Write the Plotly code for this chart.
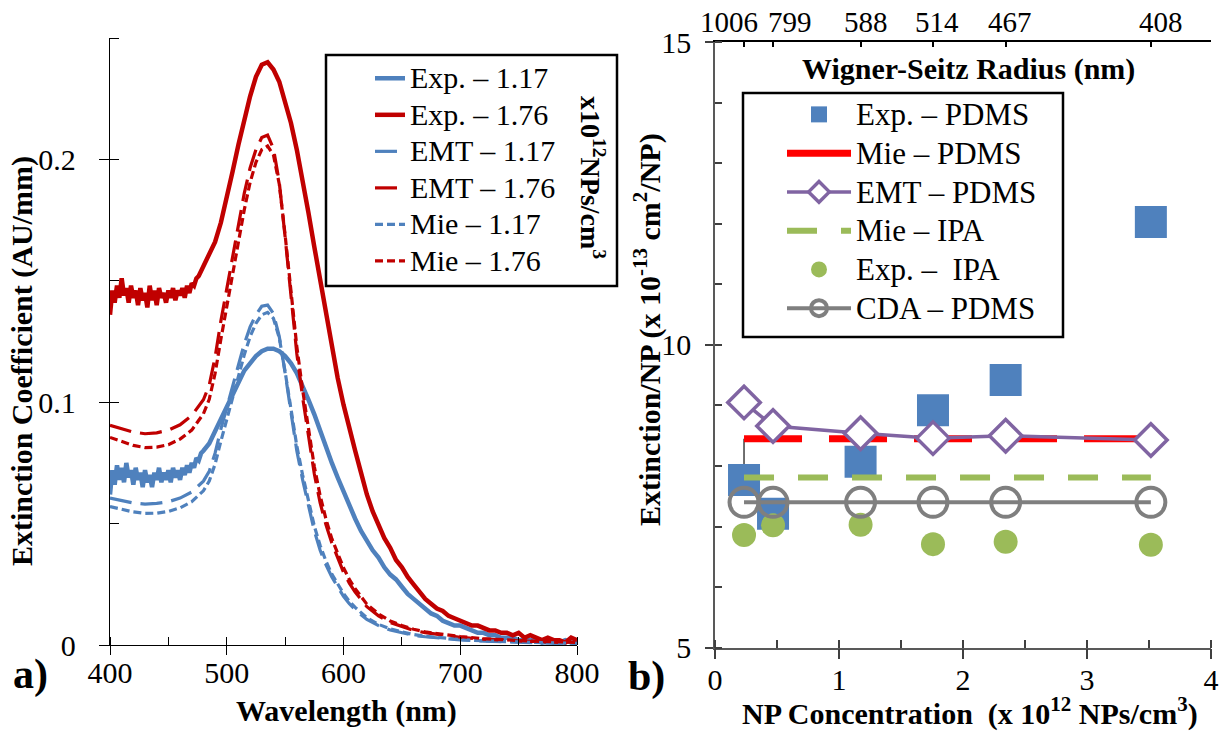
import plotly.graph_objects as go

W, H = 1225, 732
SERIF = "Liberation Serif"
BLUE = "#4F81BD"
DARKRED = "#C00000"
RED = "#FF0000"
PURPLE = "#8064A2"
GREEN = "#9BBB59"
GREY = "#7F7F7F"


def fx(p):
    return p / W


def fy(p):
    return 1 - p / H


def big(text, size):
    return f'<span style="font-size:{size}px">{text}</span>'


# ---------------- a) extinction spectra ----------------
exp_nm = [400, 402, 404, 406, 408, 410, 412, 414, 416, 418, 420, 422, 424, 426, 428, 430,
          432, 434, 436, 438, 440, 442, 444, 446, 448, 450, 452, 454, 456, 458, 460, 462,
          464, 466, 468, 470, 472, 474, 476, 478, 480,
          485, 490, 495, 500, 505, 510, 515, 520, 525, 530, 535, 540, 545, 550, 555, 560,
          565, 570, 575, 580, 585, 590, 595, 600, 605, 610, 615, 620, 625, 630, 635, 640,
          645, 650, 655, 660, 665, 670, 675, 680, 685, 690, 695, 700, 705, 710, 715, 720,
          725, 730, 735, 740, 745, 750, 755, 760, 765, 770, 775, 780, 785, 790, 795, 800]

exp_117 = [0.062, 0.072, 0.066, 0.074, 0.068, 0.073, 0.067, 0.075, 0.069, 0.072, 0.066, 0.073,
           0.068, 0.071, 0.065, 0.072, 0.067, 0.070, 0.065, 0.071, 0.068, 0.073, 0.067, 0.071,
           0.068, 0.072, 0.067, 0.073, 0.069, 0.072, 0.068, 0.073, 0.070, 0.074, 0.071, 0.075,
           0.073, 0.077, 0.076, 0.079, 0.080,
           0.083, 0.088, 0.093, 0.099, 0.104, 0.109, 0.113, 0.116, 0.119, 0.121, 0.122, 0.122,
           0.121, 0.119, 0.116, 0.112, 0.107, 0.101, 0.095, 0.088, 0.081, 0.075, 0.069, 0.063,
           0.057, 0.052, 0.047, 0.043, 0.039, 0.036, 0.032, 0.029, 0.027, 0.024, 0.021, 0.019,
           0.017, 0.015, 0.013, 0.012, 0.010, 0.009, 0.008, 0.008, 0.007, 0.006, 0.005, 0.005,
           0.004, 0.004, 0.003, 0.003, 0.003, 0.002, 0.002, 0.002, 0.002, 0.001, 0.002, 0.001,
           0.001, 0.002, 0.001, 0.001]

exp_176 = [0.136, 0.146, 0.141, 0.148, 0.143, 0.151, 0.144, 0.147, 0.141, 0.148, 0.143, 0.146,
           0.140, 0.147, 0.142, 0.145, 0.139, 0.148, 0.142, 0.146, 0.140, 0.147, 0.143, 0.145,
           0.141, 0.146, 0.143, 0.147, 0.142, 0.146, 0.144, 0.147, 0.143, 0.148, 0.145, 0.149,
           0.148, 0.151, 0.152, 0.154, 0.156,
           0.160, 0.166, 0.174, 0.184, 0.195, 0.206, 0.216, 0.226, 0.234, 0.239, 0.240, 0.237,
           0.232, 0.224, 0.215, 0.204, 0.192, 0.178, 0.164, 0.150, 0.136, 0.122, 0.110, 0.099,
           0.089, 0.080, 0.071, 0.062, 0.055, 0.049, 0.044, 0.040, 0.035, 0.032, 0.028, 0.025,
           0.022, 0.019, 0.017, 0.015, 0.014, 0.012, 0.011, 0.010, 0.009, 0.008, 0.008, 0.007,
           0.006, 0.006, 0.005, 0.005, 0.004, 0.005, 0.003, 0.004, 0.003, 0.002, 0.003, 0.002,
           0.002, 0.001, 0.003, 0.002]

model_nm = [400, 410, 420, 430, 440, 450, 460, 470, 480, 485, 490, 495, 500, 505, 510, 515,
            520, 525, 530, 535, 540, 545, 550, 555, 560, 565, 570, 575, 580, 585, 590, 595,
            600, 605, 610, 620, 630, 640, 650, 660, 670, 680, 690, 700, 720, 740, 760, 780, 800]

emt_117 = [0.0605, 0.0595, 0.0585, 0.0580, 0.0583, 0.0590, 0.0605, 0.0630, 0.0675, 0.0715,
           0.0790, 0.0890, 0.0980, 0.1060, 0.1160, 0.1240, 0.1310, 0.1360, 0.1395, 0.1400,
           0.1365, 0.1270, 0.1120, 0.0950, 0.0800, 0.0680, 0.0570, 0.0470, 0.0390, 0.0330,
           0.0280, 0.0240, 0.0200, 0.0170, 0.0145, 0.0105, 0.0080, 0.0062, 0.0050, 0.0040,
           0.0034, 0.0029, 0.0025, 0.0021, 0.0016, 0.0012, 0.0010, 0.0008, 0.0006]

emt_176 = [0.0905, 0.0890, 0.0877, 0.0870, 0.0874, 0.0885, 0.0907, 0.0945, 0.1010, 0.1070,
           0.1185, 0.1335, 0.1470, 0.1590, 0.1740, 0.1860, 0.1965, 0.2040, 0.2090, 0.2100,
           0.2045, 0.1905, 0.1680, 0.1425, 0.1200, 0.1020, 0.0855, 0.0705, 0.0585, 0.0495,
           0.0420, 0.0360, 0.0300, 0.0255, 0.0218, 0.0158, 0.0120, 0.0093, 0.0075, 0.0060,
           0.0051, 0.0044, 0.0037, 0.0032, 0.0024, 0.0018, 0.0015, 0.0012, 0.0009]

mie_117 = [0.0570, 0.0558, 0.0548, 0.0542, 0.0543, 0.0550, 0.0565, 0.0590, 0.0635, 0.0675,
           0.0745, 0.0840, 0.0930, 0.1015, 0.1110, 0.1195, 0.1270, 0.1325, 0.1360, 0.1370,
           0.1345, 0.1265, 0.1125, 0.0965, 0.0820, 0.0700, 0.0590, 0.0490, 0.0410, 0.0345,
           0.0292, 0.0250, 0.0212, 0.0180, 0.0155, 0.0112, 0.0085, 0.0066, 0.0053, 0.0043,
           0.0036, 0.0031, 0.0027, 0.0023, 0.0017, 0.0013, 0.0011, 0.0009, 0.0007]

mie_176 = [0.0855, 0.0837, 0.0822, 0.0813, 0.0815, 0.0825, 0.0848, 0.0885, 0.0952, 0.1012,
           0.1118, 0.1260, 0.1395, 0.1522, 0.1665, 0.1792, 0.1905, 0.1988, 0.2040, 0.2055,
           0.2018, 0.1898, 0.1688, 0.1448, 0.1230, 0.1050, 0.0885, 0.0735, 0.0615, 0.0518,
           0.0438, 0.0375, 0.0318, 0.0270, 0.0232, 0.0168, 0.0128, 0.0099, 0.0080, 0.0065,
           0.0054, 0.0047, 0.0040, 0.0035, 0.0026, 0.0020, 0.0016, 0.0014, 0.0010]

# ---------------- b) extinction per particle ----------------
conc = [0.234, 0.468, 1.174, 1.758, 2.344, 3.515]
radius_labels = ["1006", "799", "588", "514", "467", "408"]
radius_shift = [-15, 17, 5, 4, 4, 10]
exp_pdms = [7.77, 7.21, 8.07, 8.92, 9.42, 12.03]
exp_pdms_err_up = [0.68, 0, 0, 0, 0, 0]
mie_pdms = [8.45, 8.45, 8.45, 8.45, 8.45, 8.45]
emt_pdms = [9.05, 8.66, 8.54, 8.46, 8.50, 8.43]
mie_ipa = [7.81, 7.81, 7.81, 7.81, 7.81, 7.81]
exp_ipa = [6.86, 7.02, 7.03, 6.71, 6.75, 6.70]
cda_pdms = [7.40, 7.40, 7.40, 7.40, 7.40, 7.40]

fig = go.Figure()

LEG1_TXT = 30
LEG2_TXT = 31

spectra = [
    ("Exp. – 1.17", exp_nm, exp_117, BLUE, "solid", 4.5),
    ("Exp. – 1.76", exp_nm, exp_176, DARKRED, "solid", 4.5),
    ("EMT – 1.17", model_nm, emt_117, BLUE, "22px,9px", 3.2),
    ("EMT – 1.76", model_nm, emt_176, DARKRED, "22px,9px", 3.2),
    ("Mie – 1.17", model_nm, mie_117, BLUE, "8px,4px", 3.2),
    ("Mie – 1.76", model_nm, mie_176, DARKRED, "8px,4px", 3.2),
]
for name, xs, ys, color, dash, width in spectra:
    fig.add_trace(go.Scatter(
        x=xs, y=ys, mode="lines", name=big(name, LEG1_TXT), xaxis="x", yaxis="y",
        legend="legend", line=dict(color=color, dash=dash, width=width),
    ))

fig.add_trace(go.Scatter(
    x=conc, y=exp_pdms, mode="markers", name=big("Exp. – PDMS", LEG2_TXT),
    xaxis="x2", yaxis="y2", legend="legend2",
    marker=dict(symbol="square", size=32, color=BLUE),
    error_y=dict(type="data", symmetric=False, array=exp_pdms_err_up,
                 arrayminus=[0] * len(conc), color="#404040", thickness=1.5, width=0),
))
fig.add_trace(go.Scatter(
    x=conc, y=mie_pdms, mode="lines", showlegend=False, xaxis="x2", yaxis="y2",
    line=dict(color=RED, width=7, dash="58px,27px"),
))
fig.add_trace(go.Scatter(
    x=[None], y=[None], mode="lines", name=big("Mie – PDMS", LEG2_TXT),
    xaxis="x2", yaxis="y2", legend="legend2", line=dict(color=RED, width=7),
))
fig.add_trace(go.Scatter(
    x=conc, y=emt_pdms, mode="lines+markers", name=big("EMT – PDMS", LEG2_TXT),
    xaxis="x2", yaxis="y2", legend="legend2", line=dict(color=PURPLE, width=3.5),
    marker=dict(symbol="diamond", size=25, color="white", line=dict(color=PURPLE, width=3.5)),
))
fig.add_trace(go.Scatter(
    x=conc, y=mie_ipa, mode="lines", name=big("Mie – IPA", LEG2_TXT),
    xaxis="x2", yaxis="y2", legend="legend2",
    line=dict(color=GREEN, width=6, dash="30px,24px"),
))
fig.add_trace(go.Scatter(
    x=conc, y=exp_ipa, mode="markers", name=big("Exp. –\u00a0 IPA", LEG2_TXT),
    xaxis="x2", yaxis="y2", legend="legend2",
    marker=dict(symbol="circle", size=24, color=GREEN),
))
fig.add_trace(go.Scatter(
    x=conc, y=cda_pdms, mode="lines+markers", name=big("CDA – PDMS", LEG2_TXT),
    xaxis="x2", yaxis="y2", legend="legend2", line=dict(color=GREY, width=4),
    marker=dict(symbol="circle-open", size=29, color=GREY, line=dict(color=GREY, width=4)),
))

tick_font = dict(family=SERIF, size=30, color="black")
common = dict(showgrid=False, zeroline=False, tickfont=tick_font, automargin=False)
overlay = dict(showline=False, showticklabels=False, showgrid=False, zeroline=False,
               automargin=False)

left_x = [fx(110), fx(577)]
left_y = [fy(645), fy(38)]
right_x = [fx(715), fx(1211)]
right_y = [fy(647.7), fy(42)]

fig.update_layout(
    template="none",
    width=W, height=H, margin=dict(l=0, r=0, t=0, b=0, pad=0, autoexpand=False),
    paper_bgcolor="white", plot_bgcolor="white",
    font=dict(family=SERIF, color="black"),
    xaxis=dict(domain=left_x, anchor="y", range=[400, 800], tick0=400, dtick=100,
               ticks="outside", ticklen=9, tickwidth=1.3, tickcolor="black",
               showline=True, linecolor="black", linewidth=1.3, ticklabelstandoff=-8,
               minor=dict(ticks="inside", ticklen=8, tick0=400, dtick=50,
                          tickwidth=1.3, tickcolor="black"), **common),
    xaxis3=dict(overlaying="x", anchor="y", range=[400, 800], tick0=400, dtick=100,
                ticks="inside", ticklen=8, tickwidth=1.3, tickcolor="black", **overlay),
    yaxis=dict(domain=left_y, anchor="x", range=[0, 0.25], tick0=0, dtick=0.1,
               ticks="outside", ticklen=10, tickwidth=1.3, tickcolor="black",
               showline=True, linecolor="black", linewidth=1.3, ticklabelstandoff=17,
               minor=dict(ticks="inside", ticklen=9, tick0=0, dtick=0.05,
                          tickwidth=1.3, tickcolor="black"), **common),
    yaxis3=dict(overlaying="y", anchor="x", range=[0, 0.25], tick0=0, dtick=0.1,
                ticks="inside", ticklen=10, tickwidth=1.3, tickcolor="black", **overlay),
    xaxis2=dict(domain=right_x, anchor="y2", range=[0, 4], tick0=0, dtick=1,
                ticks="outside", ticklen=10, tickwidth=1.5, tickcolor="#404040",
                showline=True, linecolor="#595959", linewidth=1.5, ticklabelstandoff=-5,
                minor=dict(ticks="inside", ticklen=8, tick0=0, dtick=0.5,
                           tickwidth=1.5, tickcolor="#404040"), **common),
    xaxis5=dict(overlaying="x2", anchor="y2", range=[0, 4], tick0=0, dtick=1,
                ticks="inside", ticklen=9, tickwidth=1.5, tickcolor="#404040", **overlay),
    yaxis2=dict(domain=right_y, anchor="x2", range=[5, 15], tick0=5, dtick=5,
                ticks="outside", ticklen=8, tickwidth=1.5, tickcolor="#404040",
                showline=True, linecolor="#595959", linewidth=1.5, ticklabelstandoff=8,
                minor=dict(ticks="inside", ticklen=7, tick0=5, dtick=1,
                           tickwidth=1.5, tickcolor="#404040"), **common),
    yaxis5=dict(overlaying="y2", anchor="x2", range=[5, 15], tick0=5, dtick=5,
                ticks="inside", ticklen=7, tickwidth=1.5, tickcolor="#404040", **overlay),
    xaxis4=dict(overlaying="x2", anchor="y2", side="top", range=[0, 4],
                tickmode="array", tickvals=conc, ticks="inside", ticklen=5,
                tickwidth=2, tickcolor="black", showline=True, linecolor="black",
                linewidth=2, showticklabels=False, showgrid=False, zeroline=False,
                automargin=False),
    xaxis6=dict(overlaying="x2", anchor="y2", side="top", range=[0, 4],
                tickmode="array", tickvals=conc, ticks="outside", ticklen=5,
                tickwidth=2, tickcolor="black", **overlay),
    legend=dict(x=fx(370), y=fy(55), xanchor="left", yanchor="top",
                bgcolor="rgba(0,0,0,0)", borderwidth=0,
                font=dict(family=SERIF, size=25.8, color="black")),
    legend2=dict(x=fx(782), y=fy(90), xanchor="left", yanchor="top",
                 bgcolor="rgba(0,0,0,0)", borderwidth=0, itemwidth=64,
                 font=dict(family=SERIF, size=27.5, color="black")),
    shapes=[
        dict(type="rect", xref="paper", yref="paper", x0=fx(326), x1=fx(617),
             y0=fy(286), y1=fy(55), line=dict(color="black", width=2.5)),
        dict(type="rect", xref="paper", yref="paper", x0=fx(743), x1=fx(1063),
             y0=fy(337), y1=fy(93), line=dict(color="black", width=2.5)),
    ],
)

title_font = dict(family=SERIF, size=30, color="black")
annotations = [
    dict(text="<b>Extinction Coefficient (AU/mm)</b>", x=fx(22), y=fy(361),
         textangle=-90, font=title_font),
    dict(text="<b>Wavelength (nm)</b>", x=fx(346), y=fy(711), font=title_font),
    dict(text="<b>x10<sup>12</sup>NPs/cm<sup>3</sup></b>", x=fx(593), y=fy(177),
         textangle=90, font=dict(family=SERIF, size=28, color="black")),
    dict(text="<b>Extinction/NP (x 10<sup>-13</sup> cm<sup>2</sup>/NP)</b>", x=fx(648),
         y=fy(330), textangle=-90, font=dict(family=SERIF, size=30, color="black")),
    dict(text="<b>NP Concentration  (x 10<sup>12</sup> NPs/cm<sup>3</sup>)</b>",
         x=fx(970), y=fy(711), font=title_font),
    dict(text="<b>Wigner-Seitz Radius (nm)</b>", x=fx(968), y=fy(69), font=title_font),
    dict(text="<b>a)</b>", x=fx(30), y=fy(674), font=dict(family=SERIF, size=42, color="black")),
    dict(text="<b>b)</b>", x=fx(646), y=fy(676), font=dict(family=SERIF, size=42, color="black")),
]
for a in annotations:
    a.update(xref="paper", yref="paper", showarrow=False, xanchor="center", yanchor="middle")
for xv, lab, sh in zip(conc, radius_labels, radius_shift):
    annotations.append(dict(text=lab, x=xv, xref="x4", y=fy(22), yref="paper",
                            xshift=sh, showarrow=False, xanchor="center", yanchor="middle",
                            font=dict(family=SERIF, size=29, color="black")))
fig.update_layout(annotations=annotations)

fig.write_html("out.html")
